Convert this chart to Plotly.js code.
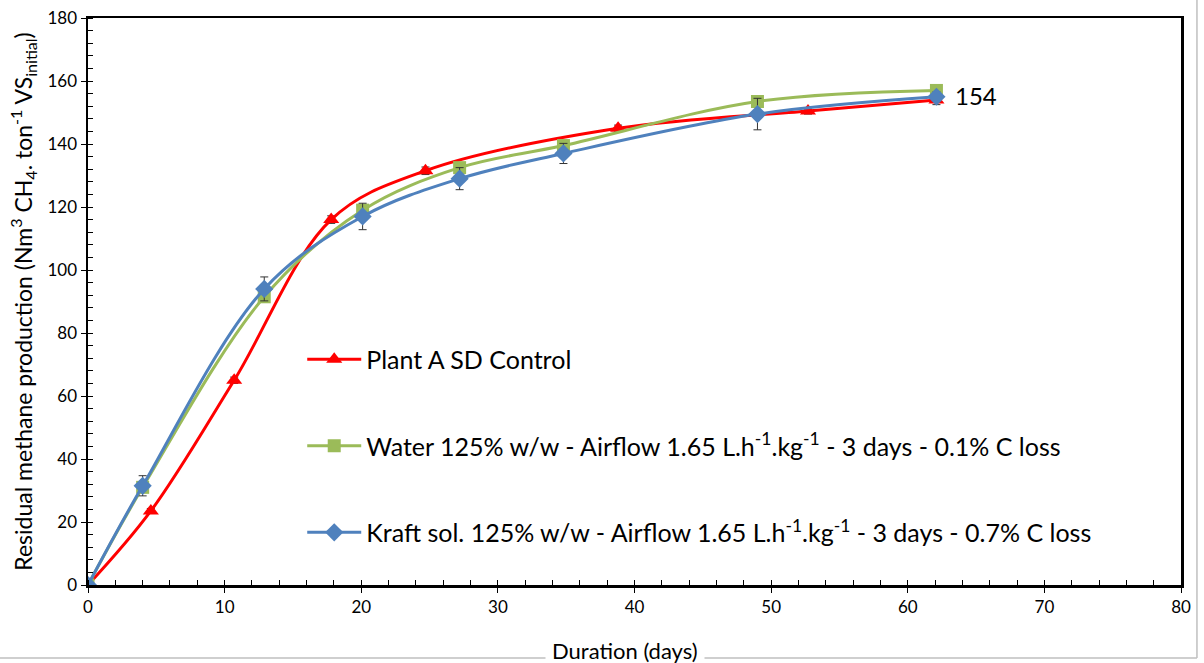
<!DOCTYPE html>
<html>
<head>
<meta charset="utf-8">
<script src="https://cdn.plot.ly/plotly-3.0.1.min.js"></script>
<style>html,body{margin:0;padding:0;background:#fff;}#chart{width:1204px;height:663px;}</style>
</head>
<body>
<div id="chart"></div>
<script>
// Data
const controlDays = [0, 4.6, 10.7, 17.8, 24.7, 38.8, 52.7, 62.1];
const controlValues = [0, 23.5, 65, 116, 131.5, 145, 150.5, 154];
const controlErr = [0, 0.8, 1, 1.2, 1.2, 1, 1, 1.5];

const waterDays = [0, 4, 12.9, 20.1, 27.2, 34.8, 49, 62.1];
const waterValues = [0, 31, 91.5, 119, 132.5, 139.5, 153.5, 157];

const kraftDays = [0, 4, 12.9, 20.1, 27.2, 34.8, 49, 62.1];
const kraftValues = [0, 31.5, 94, 117, 129, 137, 149.5, 155];
const kraftErr = [0, 3.2, 3.8, 4.2, 3.5, 3.2, 5, 1.5];

const seriesNames = [
  'Plant A SD Control',
  'Water 125% w/w - Airflow 1.65 L.h<sup>-1</sup>.kg<sup>-1</sup> - 3 days - 0.1% C loss',
  'Kraft sol. 125% w/w - Airflow 1.65 L.h<sup>-1</sup>.kg<sup>-1</sup> - 3 days - 0.7% C loss'
];
const xTitle = 'Duration (days)';
const yTitle = 'Residual methane production (Nm<sup>3</sup> CH<sub>4</sub>. ton<sup>-1</sup> VS<sub>initial</sub>)';
const endLabel = '154';
const xRange = [0, 80];
const yRange = [0, 180];

const FONT = 'Lato, "Open Sans", sans-serif';
const errStyle = {type: 'data', visible: true, color: '#333333', thickness: 1, width: 4};

const traces = [
  {
    x: controlDays, y: controlValues, name: seriesNames[0], legendgroup: 'a',
    mode: 'lines+markers', type: 'scatter',
    line: {color: '#FF0000', width: 3, shape: 'spline', smoothing: 1},
    marker: {symbol: 'triangle-up', size: 14, color: '#FF0000'},
    error_y: Object.assign({array: controlErr}, errStyle)
  },
  {
    x: waterDays, y: waterValues, name: seriesNames[1], legendgroup: 'b',
    mode: 'lines+markers', type: 'scatter',
    line: {color: '#9BBB59', width: 3, shape: 'spline', smoothing: 1},
    marker: {symbol: 'square', size: 13, color: '#9BBB59'}
  },
  {
    x: kraftDays, y: kraftValues, name: seriesNames[2], legendgroup: 'c',
    mode: 'lines+markers', type: 'scatter',
    line: {color: '#4F81BD', width: 3, shape: 'spline', smoothing: 1},
    marker: {symbol: 'diamond', size: 14, color: '#4F81BD'},
    error_y: Object.assign({array: kraftErr}, errStyle)
  }
];

const axisCommon = {
  showgrid: false, zeroline: false, showline: true, linecolor: '#000', linewidth: 2.5,
  mirror: true, ticks: 'outside', ticklen: 5, tickwidth: 1, tickcolor: '#000',
  tickfont: {family: FONT, size: 17, color: '#000'}
};

const layout = {
  width: 1204, height: 663,
  margin: {l: 88, r: 23, t: 18, b: 78},
  paper_bgcolor: '#fff', plot_bgcolor: '#fff',
  font: {family: FONT, color: '#000'},
  showlegend: true,
  legend: {
    x: 0.196, y: 0.245, xanchor: 'left', yanchor: 'middle',
    bgcolor: 'rgba(0,0,0,0)', font: {family: FONT, size: 25, color: '#000'},
    traceorder: 'grouped', tracegroupgap: 51, itemwidth: 54
  },
  xaxis: Object.assign({}, axisCommon, {
    range: xRange, dtick: 10, tick0: 0,
    minor: {dtick: 2, ticks: 'inside', ticklen: 5, tickcolor: '#000', tickwidth: 1}
  }),
  yaxis: Object.assign({}, axisCommon, {
    range: yRange, dtick: 20, tick0: 0,
    minor: {dtick: 4, ticks: 'inside', ticklen: 5, tickcolor: '#000', tickwidth: 1},
    title: {text: yTitle, font: {family: FONT, size: 23, color: '#000'}, standoff: 9}
  }),
  xaxis2: {overlaying: 'x', anchor: 'y', range: xRange, dtick: 10, tick0: 0,
    ticks: 'inside', ticklen: 5, tickcolor: '#000', showticklabels: false,
    showline: false, showgrid: false, zeroline: false, side: 'bottom'},
  yaxis2: {overlaying: 'y', anchor: 'x', range: yRange, dtick: 20, tick0: 0,
    ticks: 'inside', ticklen: 5, tickcolor: '#000', showticklabels: false,
    showline: false, showgrid: false, zeroline: false, side: 'left'},
  shapes: [
    {type: 'line', xref: 'paper', yref: 'paper', x0: 1.0146, x1: 1.0146, y0: -0.1287, y1: 1.04,
      line: {color: '#BFBFBF', width: 1.5}},
    {type: 'line', xref: 'paper', yref: 'paper', x0: -0.09, x1: 1.0146, y0: -0.1287, y1: -0.1287,
      line: {color: '#BFBFBF', width: 1.5}}
  ],
  annotations: [
    {text: xTitle, xref: 'paper', yref: 'paper', x: 0.491, y: -0.1164,
      xanchor: 'center', yanchor: 'middle', showarrow: false,
      font: {family: FONT, size: 22, color: '#000'}, bgcolor: '#fff', borderpad: 6},
    {text: endLabel, xref: 'x', yref: 'y', x: controlDays[controlDays.length - 1] + 1.2,
      y: controlValues[controlValues.length - 1] + 1.5, xanchor: 'left', yanchor: 'middle',
      showarrow: false, font: {family: FONT, size: 24, color: '#000'}}
  ]
};

Plotly.newPlot('chart', traces, layout, {displayModeBar: false, staticPlot: true});
</script>
</body>
</html>
